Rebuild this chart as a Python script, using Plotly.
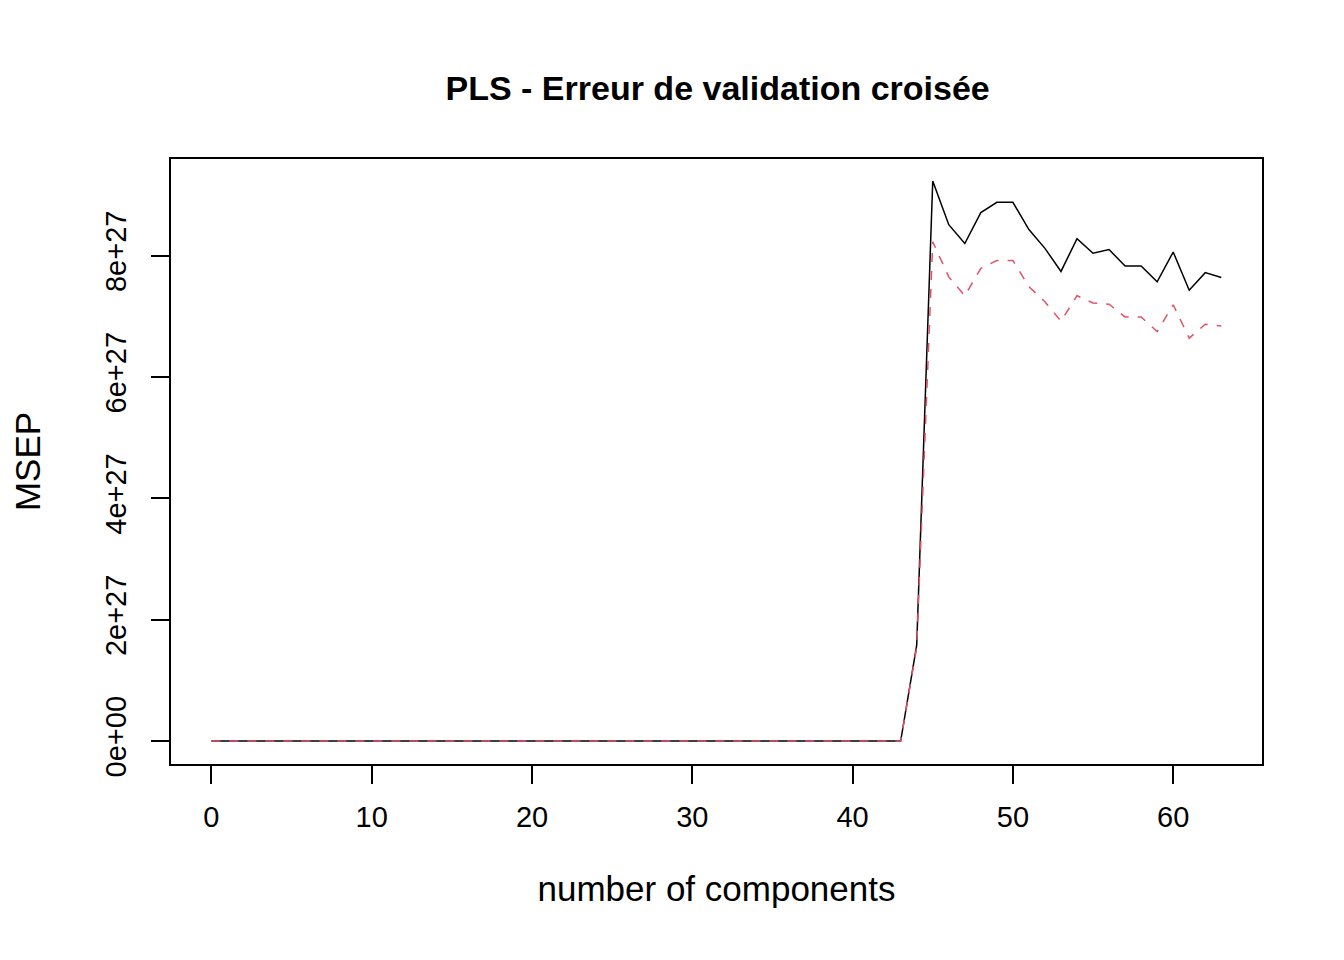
import plotly.graph_objects as go

x = list(range(64))
cv = [0.0]*44 + [1.58, 9.23, 8.51, 8.20, 8.71, 8.88, 8.88, 8.43, 8.12, 7.74, 8.28, 8.04, 8.10, 7.83, 7.83, 7.57, 8.06, 7.43, 7.72, 7.64]
adjcv = [0.0]*44 + [1.55, 8.23, 7.65, 7.34, 7.79, 7.92, 7.92, 7.49, 7.24, 6.92, 7.34, 7.22, 7.20, 6.99, 6.99, 6.75, 7.19, 6.64, 6.87, 6.84]
scale = 1e27
yticks = [0, 2, 4, 6, 8]
ylabels = ["0e+00", "2e+27", "4e+27", "6e+27", "8e+27"]
xticks = [0, 10, 20, 30, 40, 50, 60]

fig = go.Figure()
fig.add_trace(go.Scatter(x=x, y=[v*scale for v in cv], mode="lines", line=dict(color="black", width=1.5), name="CV"))
fig.add_trace(go.Scatter(x=x, y=[v*scale for v in adjcv], mode="lines", line=dict(color="#DF536B", width=1.5, dash="dash"), name="adjCV"))

fig.update_layout(
    width=1344, height=960, plot_bgcolor="white", paper_bgcolor="white",
    margin=dict(l=151, r=90, t=151, b=204), showlegend=False,
    font=dict(family="Liberation Sans, Arial", size=29, color="black"),
    title=dict(text="<b>PLS - Erreur de validation croisée</b>", x=0.528, xanchor="center", y=0.917, yanchor="middle", font=dict(size=34)),
)
fig.update_xaxes(range=[-2.52, 65.54], tickvals=xticks, showgrid=False, zeroline=False,
                 ticks="outside", ticklen=18, tickwidth=1.5, tickcolor="black",
                 ticklabelstandoff=8,
                 showline=True, mirror=True, linecolor="black", linewidth=1.5,
                 title=dict(text="number of components", standoff=45))
fig.update_yaxes(range=[-0.378*scale, 9.593*scale], tickvals=[v*scale for v in yticks], ticktext=ylabels,
                 tickangle=-90, showgrid=False, zeroline=False,
                 ticks="outside", ticklen=18, tickwidth=1.5, tickcolor="black",
                 ticklabelstandoff=14,
                 showline=True, mirror=True, linecolor="black", linewidth=1.5,
                 title=dict(text="MSEP", standoff=55))
fig.write_html("out.html")
